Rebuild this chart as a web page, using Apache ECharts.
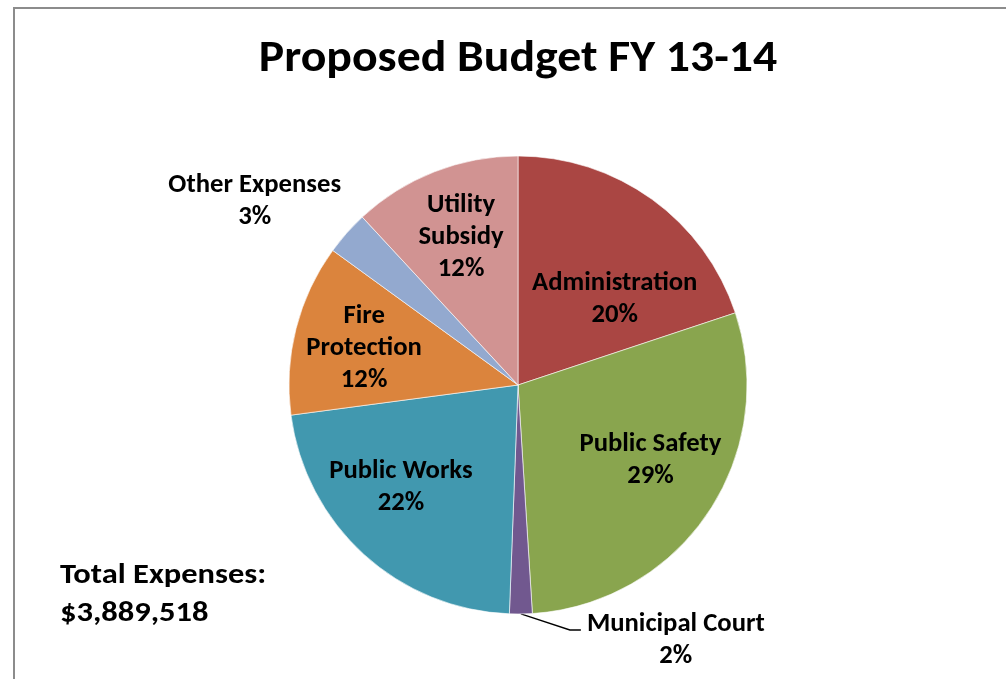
<!DOCTYPE html>
<html>
<head>
<meta charset="utf-8">
<script src="https://cdn.jsdelivr.net/npm/echarts@6/dist/echarts.min.js"></script>
<style>
  html, body { margin: 0; padding: 0; background: #ffffff; }
  #chart { width: 1006px; height: 679px; }
</style>
</head>
<body>
<div id="chart"></div>
<script>
// Budget shares by department, in percent of total expenses
const categories = ['Administration', 'Public Safety', 'Municipal Court', 'Public Works', 'Fire Protection', 'Other Expenses', 'Utility Subsidy'];
const shares = [19.9, 29.1, 1.6, 22.3, 12.1, 3.1, 11.9];
const sliceColors = ['#AA4643', '#89A54E', '#71588F', '#4198AF', '#DB843D', '#93A9CF', '#D19392'];
const totalExpenses = 3889518;
const chartTitle = 'Proposed Budget FY 13-14';

const FONT = 'Carlito, Calibri, Lato, sans-serif';
const LABEL_SIZE = 26.7;

// Names that are split over two lines inside their slice
const wrappedNames = ['Fire Protection', 'Utility Subsidy'];
// Slices whose label sits outside the pie
const outsideNames = ['Municipal Court', 'Other Expenses'];
// Small nudges of the inside label text away from the default mid-radius spot
const insideNudge = {
  'Administration': [28, 10],
  'Public Safety': [35, 10],
  'Public Works': [-38, 15],
  'Fire Protection': [-40, -8],
  'Utility Subsidy': [-14, -38]
};

const chart = echarts.init(document.getElementById('chart'), null, { renderer: 'canvas' });

const pieData = categories.map((name, i) => {
  const outside = outsideNames.includes(name);
  return {
    name: name,
    value: shares[i],
    itemStyle: { color: sliceColors[i] },
    label: { position: outside ? 'outside' : 'inside' },
    labelLine: {
      show: outside,
      length: 16,
      length2: 10,
      lineStyle: {
        color: '#000000',
        width: 1.3,
        opacity: name === 'Other Expenses' ? 0 : 1
      }
    }
  };
});

const money = '$' + totalExpenses.toLocaleString('en-US');

chart.setOption({
  backgroundColor: '#ffffff',
  animation: false,
  graphic: [
    {
      type: 'rect',
      shape: { x: 14, y: 8, width: 1010, height: 700 },
      style: { fill: null, stroke: '#8c8c8c', lineWidth: 2 },
      silent: true
    },
    {
      // chart title, centred over the pie
      type: 'text',
      x: 518,
      y: 60,
      scaleX: 1.085,
      style: {
        text: chartTitle,
        align: 'center',
        verticalAlign: 'middle',
        fontFamily: FONT,
        fontWeight: 'bold',
        fontSize: 44,
        fill: '#000000'
      },
      silent: true
    },
    {
      type: 'text',
      x: 60,
      y: 557,
      scaleX: 1.12,
      style: {
        text: 'Total Expenses:\n' + money,
        align: 'left',
        verticalAlign: 'top',
        fontFamily: FONT,
        fontWeight: 'bold',
        fontSize: 29,
        lineHeight: 38,
        fill: '#000000'
      },
      silent: true
    }
  ],
  series: [
    {
      type: 'pie',
      center: [518, 385],
      radius: 229,
      startAngle: 90,
      clockwise: true,
      avoidLabelOverlap: false,
      itemStyle: { borderColor: '#ffffff', borderWidth: 0.6 },
      label: {
        color: '#000000',
        fontFamily: FONT,
        fontWeight: 'bold',
        fontSize: LABEL_SIZE,
        lineHeight: 32,
        formatter: function (p) {
          const name = wrappedNames.includes(p.name) ? p.name.replace(' ', '\n') : p.name;
          const pct = Math.round(p.percent) + '%';
          return (name + '\n' + pct).split('\n').map(s => '{t|' + s + '}').join('\n');
        },
        rich: {
          t: {
            align: 'center',
            color: '#000000',
            fontFamily: FONT,
            fontWeight: 'bold',
            fontSize: LABEL_SIZE,
            lineHeight: 32
          }
        }
      },
      labelLayout: function (p) {
        const name = categories[p.dataIndex];
        const nudge = insideNudge[name];
        if (nudge) {
          return { dx: nudge[0], dy: nudge[1] };
        }
        const pts = p.labelLinePoints;
        if (!pts) return {};
        const s = pts[0];
        if (name === 'Municipal Court') {
          const bend = [s[0] + 49, s[1] + 16];
          const end = [s[0] + 60, s[1] + 16];
          return {
            x: end[0] + 6,
            y: end[1] + 10,
            align: 'left',
            verticalAlign: 'middle',
            labelLinePoints: [s, bend, end]
          };
        }
        if (name === 'Other Expenses') {
          return { x: s[0] - 92, y: s[1] - 32, align: 'center', verticalAlign: 'middle' };
        }
        return {};
      },
      data: pieData
    }
  ]
});
</script>
</body>
</html>
